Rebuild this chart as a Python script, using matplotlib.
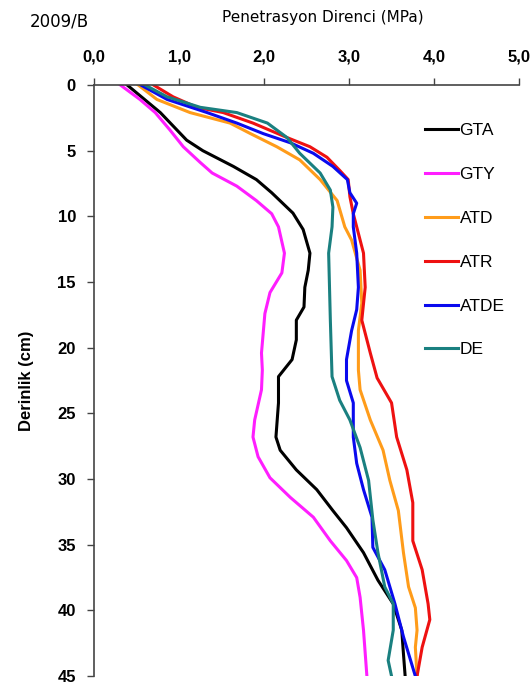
import matplotlib.pyplot as plt

plt.rcParams['font.family'] = ['Liberation Sans', 'DejaVu Sans']

# Depth (cm) and penetration resistance (MPa)
gta_depth = [0, 2.1, 4.2, 5, 6.2, 7.2, 8.2, 9.75, 11, 12.8, 14.1, 15.4, 16.9, 17.9, 19.4,
             20.9, 22.2, 24.2, 26.8, 27.8, 29.3, 30.8, 32.4, 33.7, 35.6, 37.7, 39.5, 41.5, 43.3, 45]
gta = [0.39, 0.78, 1.09, 1.28, 1.64, 1.91, 2.09, 2.34, 2.46, 2.54, 2.52, 2.48, 2.47, 2.38, 2.38,
       2.33, 2.17, 2.17, 2.14, 2.19, 2.38, 2.62, 2.81, 2.97, 3.17, 3.34, 3.52, 3.62, 3.64, 3.66]

gty_depth = [0, 1.1, 2.1, 3.4, 4.7, 5.9, 6.7, 7.7, 8.8, 9.8, 10.8, 12.8, 14.3, 15.8, 17.4,
             20.4, 21.7, 23.2, 25.5, 26.8, 28.3, 29.9, 31.4, 32.9, 34.7, 36.2, 37.5, 39, 41.5, 45]
gty = [0.31, 0.54, 0.72, 0.89, 1.05, 1.25, 1.39, 1.68, 1.91, 2.09, 2.17, 2.24, 2.21, 2.07, 2.01,
       1.97, 1.98, 1.97, 1.89, 1.87, 1.93, 2.07, 2.31, 2.58, 2.78, 2.97, 3.09, 3.13, 3.17, 3.21]

atd_depth = [0, 1.1, 2.1, 2.9, 3.7, 4.7, 5.7, 7.2, 8.8, 10.8, 11.8, 14.1, 16.6, 18.7, 21.7,
             23.2, 25.5, 27.8, 30.1, 32.4, 35.6, 38.2, 39.8, 41.5, 42.8, 45]
atd = [0.52, 0.74, 1.13, 1.6, 1.84, 2.15, 2.42, 2.66, 2.86, 2.95, 3.03, 3.13, 3.15, 3.11, 3.11,
       3.13, 3.25, 3.40, 3.48, 3.58, 3.64, 3.70, 3.78, 3.80, 3.78, 3.80]

atr_depth = [0, 0.9, 1.7, 2.1, 2.9, 4.0, 4.7, 5.5, 6.5, 7.2, 8.5, 9.8, 12.8, 15.4, 17.9,
             20.4, 22.3, 24.2, 26.8, 29.3, 31.8, 33.7, 34.7, 36.9, 39.5, 40.7, 42.8, 45]
atr = [0.70, 0.93, 1.21, 1.52, 1.87, 2.27, 2.54, 2.74, 2.89, 2.99, 3.01, 3.05, 3.17, 3.19, 3.15,
       3.25, 3.33, 3.50, 3.56, 3.68, 3.75, 3.75, 3.75, 3.86, 3.93, 3.95, 3.86, 3.80]

atde_depth = [0, 1.1, 2.1, 2.9, 3.7, 4.4, 5.2, 6.2, 7.2, 8.2, 9.0, 9.8, 10.8, 12.8, 15.4,
              17.1, 18.7, 20.9, 22.5, 24.2, 26.8, 28.8, 30.8, 32.9, 35.2, 36.9, 39.5, 42, 45]
atde = [0.55, 0.86, 1.33, 1.68, 1.99, 2.31, 2.58, 2.81, 2.98, 3.01, 3.09, 3.05, 3.05, 3.09, 3.11,
        3.09, 3.03, 2.97, 2.97, 3.05, 3.05, 3.09, 3.17, 3.27, 3.28, 3.42, 3.54, 3.64, 3.78]

de_depth = [0, 0.9, 1.7, 2.1, 2.9, 4.0, 5.2, 6.7, 8.0, 9.3, 10.8, 12.8, 17.9, 22.2, 24.0,
            25.5, 27.6, 30.1, 33.1, 35.6, 38.2, 39.5, 41.5, 43.8, 45]
de = [0.60, 0.86, 1.25, 1.68, 2.04, 2.27, 2.42, 2.66, 2.78, 2.81, 2.80, 2.76, 2.78, 2.80, 2.89,
      3.01, 3.13, 3.23, 3.28, 3.34, 3.42, 3.52, 3.52, 3.46, 3.50]

labels = ["GTA", "GTY", "ATD", "ATR", "ATDE", "DE"]
colors = ["black", "#ff1eff", "#ff9c1a", "#ee1111", "#0a0aee", "#1a8080"]
series = [(gta, gta_depth), (gty, gty_depth), (atd, atd_depth),
          (atr, atr_depth), (atde, atde_depth), (de, de_depth)]

x_ticks = [0, 1, 2, 3, 4, 5]
x_ticklabels = ["0,0", "1,0", "2,0", "3,0", "4,0", "5,0"]
y_ticks = [0, 5, 10, 15, 20, 25, 30, 35, 40, 45]

fig = plt.figure(figsize=(5.32, 6.91), dpi=100)
ax = fig.add_axes([0.1767, 0.0215, 0.799, 0.8555])

for (vals, depth), lab, col in zip(series, labels, colors):
    ax.plot(vals, depth, color=col, lw=2.2, label=lab)

ax.set_xlim(0, 5)
ax.set_ylim(45, 0)
ax.xaxis.tick_top()
ax.set_xticks(x_ticks)
ax.set_xticklabels(x_ticklabels, fontweight="bold", fontsize=12)
ax.set_yticks(y_ticks)
ax.set_yticklabels([str(v) for v in y_ticks], fontweight="bold", fontsize=12)
ax.tick_params(axis="x", direction="out", length=5, width=1, color="#444444", pad=10)
ax.tick_params(axis="y", direction="out", length=5, width=1, color="#444444", pad=8)
for s in ["right", "bottom"]:
    ax.spines[s].set_visible(False)
for s in ["left", "top"]:
    ax.spines[s].set_color("#444444")
    ax.spines[s].set_linewidth(1.2)

ax.set_ylabel("Derinlik (cm)", fontsize=12, fontweight="bold", labelpad=17)

fig.text(0.607, 0.975, "Penetrasyon Direnci (MPa)", ha="center", va="center",
         fontsize=11, family="DejaVu Sans")
fig.text(0.056, 0.969, "2009/B", ha="left", va="center", fontsize=12, family="DejaVu Sans")

leg = ax.legend(loc="upper left", bbox_to_anchor=(0.762, 0.947), frameon=False,
                fontsize=12.5, handlelength=1.9, handletextpad=0.1, labelspacing=1.65,
                borderaxespad=0)

fig.savefig("out.png", dpi=100)
